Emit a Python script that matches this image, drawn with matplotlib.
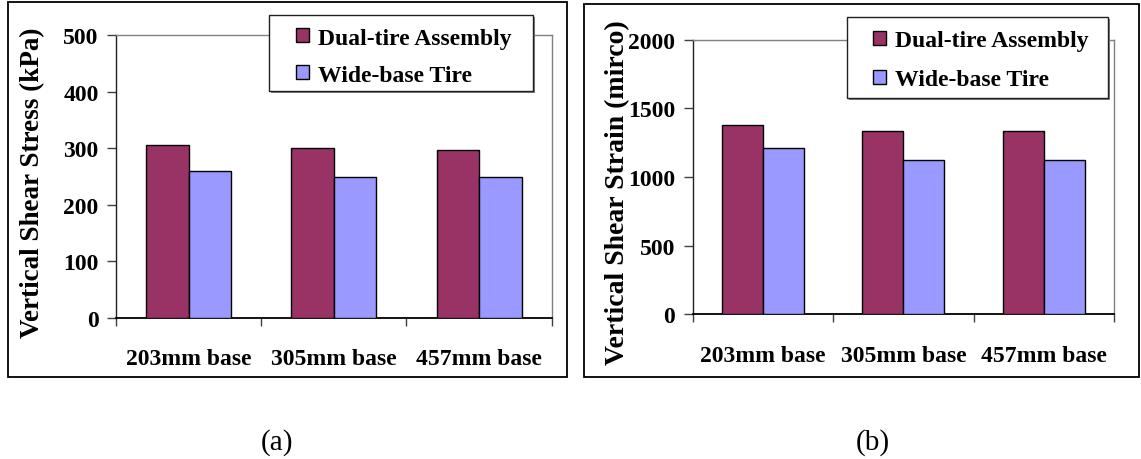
import matplotlib
matplotlib.use("Agg")
import matplotlib.pyplot as plt
from matplotlib.patches import Rectangle
import numpy as np

# ---- data ----
categories = ["203mm base", "305mm base", "457mm base"]
series_names = ["Dual-tire Assembly", "Wide-base Tire"]
stress_dual = [305, 300, 297]
stress_wide = [260, 249, 249]
strain_dual = [1380, 1337, 1337]
strain_wide = [1211, 1126, 1126]

DUAL_COLOR = "#993366"
WIDE_COLOR = "#9999FF"

plt.rcParams['font.family'] = ['Liberation Serif', 'DejaVu Serif']
plt.rcParams['font.weight'] = 'bold'

W, H = 1141, 460
fig = plt.figure(figsize=(W / 100, H / 100), dpi=100)


def frac(x0, y0, x1, y1):
    return [x0 / W, 1 - y1 / H, (x1 - x0) / W, (y1 - y0) / H]


def fig_rect(x0, y0, x1, y1, **kw):
    r = Rectangle((x0 / W, 1 - y1 / H), (x1 - x0) / W, (y1 - y0) / H,
                  transform=fig.transFigure, **kw)
    fig.add_artist(r)
    return r


# outer panel frames
fig_rect(7.5, 3, 567, 377.5, fill=False, ec='black', lw=1.3, zorder=1)
fig_rect(584, 5, 1138.5, 377.5, fill=False, ec='black', lw=1.3, zorder=1)


def panel(rect, dual, wide, ymax, ystep, ylabel, ylabel_xy, ylabel_size,
          legbox, leganchor, legspacing):
    ax = fig.add_axes(frac(*rect))
    x = np.arange(len(categories)) + 0.5
    w = 0.293
    b1 = ax.bar(x - w / 2, dual, w, color=DUAL_COLOR, edgecolor='black',
                linewidth=1.0, label=series_names[0], zorder=3)
    b2 = ax.bar(x + w / 2, wide, w, color=WIDE_COLOR, edgecolor='black',
                linewidth=1.0, label=series_names[1], zorder=3)
    ax.set_xlim(0, len(categories))
    ax.set_ylim(0, ymax)
    ax.set_yticks(np.arange(0, ymax + 1, ystep))
    ax.tick_params(axis='y', length=6.5, width=1, pad=6, labelsize=17,
                   color='#404040')
    ax.set_xticks(x)
    ax.set_xticklabels(categories, fontsize=17, fontweight='bold')
    ax.tick_params(axis='x', which='major', length=0, pad=22)
    ax.set_xticks(np.arange(len(categories) + 1), minor=True)
    ax.tick_params(axis='x', which='minor', length=6, width=1,
                   direction='out', color='#404040')
    for s in ['top', 'right']:
        ax.spines[s].set_color('#808080')
        ax.spines[s].set_linewidth(1.0)
    ax.spines['left'].set_color('#202020')
    ax.spines['left'].set_linewidth(1.0)
    ax.spines['bottom'].set_color('black')
    ax.spines['bottom'].set_linewidth(1.3)

    fig.text(ylabel_xy[0] / W, 1 - ylabel_xy[1] / H, ylabel, rotation=90,
             ha='center', va='center', fontsize=ylabel_size, fontweight='bold')

    # legend frame with shadow
    x0, y0, x1, y1 = legbox
    fig_rect(x0 + 2, y0 + 2, x1 + 2, y1 + 2, fc='#808080', ec='none', zorder=3.8)
    fig_rect(x0, y0, x1, y1, fc='white', ec='#202020', lw=1.0, zorder=3.9)
    fig.legend([b1, b2], series_names, loc='upper left',
               bbox_to_anchor=(leganchor[0] / W, 1 - leganchor[1] / H),
               bbox_transform=fig.transFigure, frameon=False,
               borderpad=0, borderaxespad=0, handlelength=0.58,
               handleheight=0.54, handletextpad=0.35, labelspacing=legspacing,
               prop={'size': 17, 'weight': 'bold'})
    return ax


panel((116, 36.4, 551.7, 318.7), stress_dual, stress_wide, 500, 100,
      "Vertical Shear Stress (kPa)", (33, 183), 19.5,
      (269.3, 16, 533.3, 92.3), (295.7, 28.7), 0.68)
panel((692.7, 40.7, 1114, 315.3), strain_dual, strain_wide, 2000, 500,
      "Vertical Shear Strain (mirco)", (618, 192.5), 20,
      (846.7, 18.3, 1108.3, 99.3), (872.7, 31), 0.78)

fig.text(277 / W, 1 - 443 / H, "(a)", ha='center', va='center',
         fontsize=21, fontweight='normal')
fig.text(873 / W, 1 - 443 / H, "(b)", ha='center', va='center',
         fontsize=21, fontweight='normal')

fig.savefig("out.png", dpi=100)
